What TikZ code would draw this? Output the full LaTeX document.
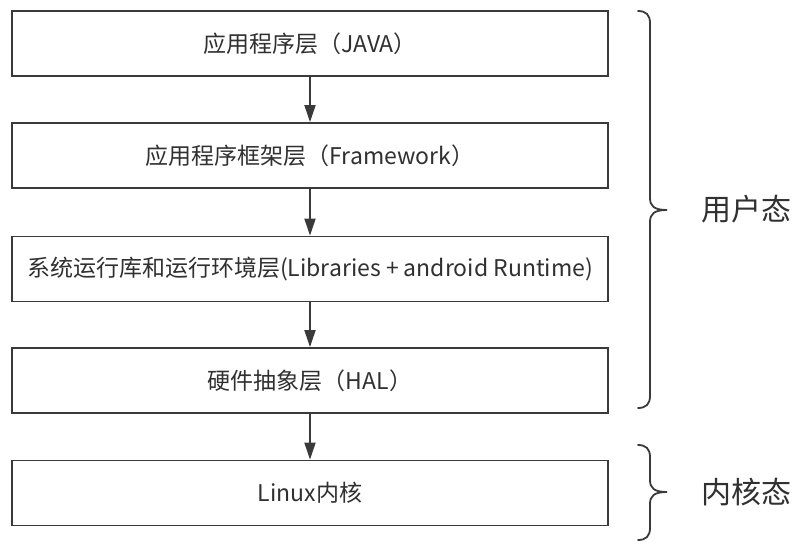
\documentclass[tikz,border=0pt]{standalone}
\usepackage{fontspec}
\setmainfont{Noto Sans CJK SC}
\usetikzlibrary{arrows.meta}
\definecolor{linec}{HTML}{3A3A3A}
\definecolor{textc}{HTML}{303030}
\tikzset{
  layer/.style={draw=linec, line width=1.8pt, fill=white, minimum width=596pt, minimum height=65pt, inner sep=0pt, text=textc, font=\fontsize{23}{26}\selectfont},
  flow/.style={draw=linec, line width=1.8pt, -{Triangle[length=17pt,width=11pt]}},
  bracec/.style={draw=linec, line width=1.8pt, line cap=round},
  side/.style={text=textc, font=\fontsize{30}{34}\selectfont, anchor=west, inner sep=0pt}
}
\begin{document}
\begin{tikzpicture}[x=1pt,y=-1pt]
\useasboundingbox (0,0) rectangle (803,553);
\node[layer] (l1) at (310,43.5) {应用程序层（JAVA）};
\node[layer] (l2) at (310,155.5) {应用程序框架层（Framework）};
\node[layer] (l3) at (310,269) {系统运行库和运行环境层(Libraries + android Runtime)};
\node[layer] (l4) at (310,380.5) {硬件抽象层（HAL）};
\node[layer] (l5) at (310,493) {Linux内核};
\draw[flow] (l1) -- (l2);
\draw[flow] (l2) -- (l3);
\draw[flow] (l3) -- (l4);
\draw[flow] (l4) -- (l5);
\coordinate (b1top) at (638,11);
\coordinate (b1tip) at (667,210);
\coordinate (b1bot) at (638,408);
\draw[bracec] (b1top) .. controls (646,11) and (650,15) .. (650,23) -- (650,198) .. controls (650,206) and (654,210) .. (b1tip) .. controls (654,210) and (650,214) .. (650,222) -- (650,396) .. controls (650,404) and (646,408) .. (b1bot);
\coordinate (b2top) at (638,445);
\coordinate (b2tip) at (667,492);
\coordinate (b2bot) at (638,540);
\draw[bracec] (b2top) .. controls (646,445) and (650,449) .. (650,457) -- (650,480) .. controls (650,488) and (654,492) .. (b2tip) .. controls (654,492) and (650,496) .. (650,504) -- (650,528) .. controls (650,536) and (646,540) .. (b2bot);
\node[side] (user) at (701,209) {用户态};
\node[side] (kern) at (701,492) {内核态};
\end{tikzpicture}
\end{document}
